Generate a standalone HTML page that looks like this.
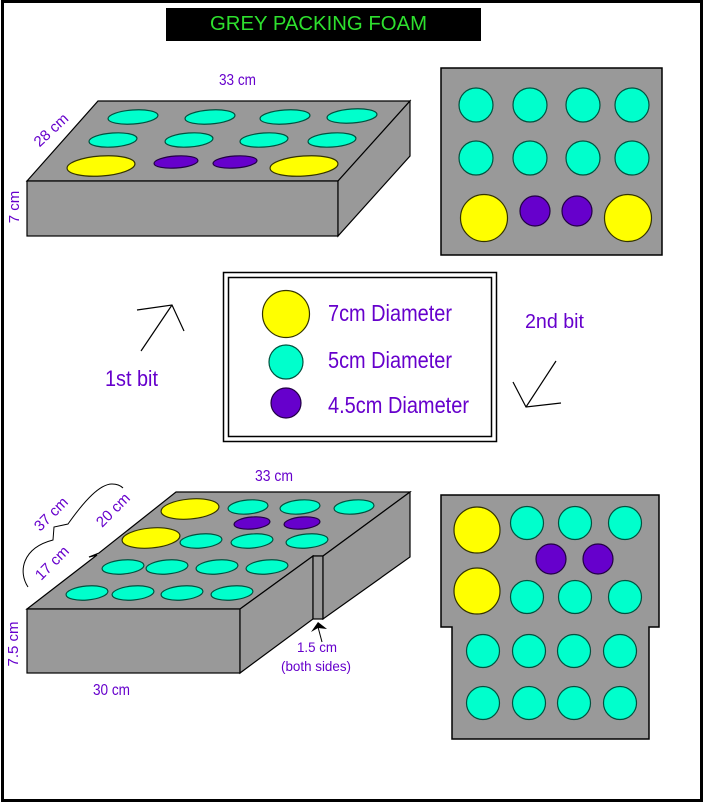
<!DOCTYPE html>
<html><head><meta charset="utf-8"><style>
html,body{margin:0;padding:0;background:#fff;}
svg{display:block;}
text{font-family:"Liberation Sans",Arial,sans-serif;}
</style></head><body>
<svg width="703" height="803" viewBox="0 0 703 803" xmlns="http://www.w3.org/2000/svg">
<rect x="0" y="0" width="703" height="803" fill="#fff"/>
<rect x="2.5" y="1.5" width="699" height="799" fill="none" stroke="#000" stroke-width="3"/>

<!-- Title -->
<rect x="166" y="8" width="315" height="33" fill="#000"/>
<text x="210" y="30" font-size="20" fill="#2ee02e" textLength="217" lengthAdjust="spacingAndGlyphs">GREY  PACKING FOAM</text>

<!-- Top box -->
<g stroke="#000" stroke-width="1.2" fill="#999999">
<polygon points="98,101 410,101 338,181 27,181"/>
<rect x="27" y="181" width="311" height="55"/>
<polygon points="338,181 410,101 410,156 338,236"/>
</g>
<g stroke-width="1.2">
<g fill="#00ffcc" stroke="#00523f">
<ellipse cx="133" cy="117" rx="25" ry="7" transform="rotate(-4 133 117)"/>
<ellipse cx="210" cy="117" rx="25" ry="7" transform="rotate(-4 210 117)"/>
<ellipse cx="285" cy="117" rx="25" ry="7" transform="rotate(-4 285 117)"/>
<ellipse cx="352" cy="116" rx="25" ry="7" transform="rotate(-4 352 116)"/>
<ellipse cx="113" cy="140" rx="24" ry="7" transform="rotate(-4 113 140)"/>
<ellipse cx="189" cy="140" rx="24" ry="7" transform="rotate(-4 189 140)"/>
<ellipse cx="264" cy="140" rx="24" ry="7" transform="rotate(-4 264 140)"/>
<ellipse cx="332" cy="140" rx="24" ry="7" transform="rotate(-4 332 140)"/>
</g>
<g fill="#ffff00" stroke="#333300">
<ellipse cx="101" cy="166" rx="34" ry="10" transform="rotate(-4 101 166)"/>
<ellipse cx="304" cy="166" rx="34" ry="10" transform="rotate(-4 304 166)"/>
</g>
<g fill="#6600cc" stroke="#220044">
<ellipse cx="176" cy="162" rx="22" ry="6" transform="rotate(-4 176 162)"/>
<ellipse cx="235" cy="162" rx="22" ry="6" transform="rotate(-4 235 162)"/>
</g>
</g>
<g fill="#6600cc" font-size="15">
<text x="219" y="85" font-size="16" textLength="37" lengthAdjust="spacingAndGlyphs">33 cm</text>
<text x="0" y="5" text-anchor="middle" transform="translate(51,130) rotate(-43)">28 cm</text>
<text x="0" y="5" text-anchor="middle" transform="translate(14,207) rotate(-90)">7 cm</text>
</g>

<!-- Top right panel -->
<rect x="441" y="68" width="221" height="187" fill="#999999" stroke="#000" stroke-width="1.5"/>
<g stroke-width="1.2">
<g fill="#00ffcc" stroke="#00523f">
<circle cx="476" cy="105" r="17"/><circle cx="530" cy="105" r="17"/><circle cx="583" cy="105" r="17"/><circle cx="632" cy="105" r="17"/>
<circle cx="476" cy="158" r="17"/><circle cx="530" cy="158" r="17"/><circle cx="583" cy="158" r="17"/><circle cx="632" cy="158" r="17"/>
</g>
<g fill="#ffff00" stroke="#333300">
<circle cx="484" cy="218" r="23.5"/><circle cx="628" cy="218" r="23.5"/>
</g>
<g fill="#6600cc" stroke="#220044">
<circle cx="535" cy="211" r="15"/><circle cx="577" cy="211" r="15"/>
</g>
</g>

<!-- Legend -->
<rect x="223.5" y="272.5" width="273" height="169" fill="#fff" stroke="#000" stroke-width="1.5"/>
<rect x="228.5" y="277.5" width="263" height="159" fill="none" stroke="#000" stroke-width="1.5"/>
<circle cx="286" cy="314" r="23.5" fill="#ffff00" stroke="#333300" stroke-width="1.2"/>
<circle cx="286" cy="362" r="17" fill="#00ffcc" stroke="#00523f" stroke-width="1.2"/>
<circle cx="286" cy="403" r="15" fill="#6600cc" stroke="#220044" stroke-width="1.2"/>
<g fill="#6600cc" font-size="23">
<text x="328" y="321" textLength="124" lengthAdjust="spacingAndGlyphs">7cm Diameter</text>
<text x="328" y="368" textLength="124" lengthAdjust="spacingAndGlyphs">5cm Diameter</text>
<text x="328" y="413" textLength="141" lengthAdjust="spacingAndGlyphs">4.5cm Diameter</text>
<text x="105" y="386" font-size="22" textLength="53" lengthAdjust="spacingAndGlyphs">1st bit</text>
<text x="525" y="328" font-size="20" textLength="59" lengthAdjust="spacingAndGlyphs">2nd bit</text>
</g>

<!-- Arrows -->
<g stroke="#000" stroke-width="1.2" fill="none">
<line x1="141" y1="351" x2="172" y2="305"/>
<polyline points="137,310 172,305 184,331"/>
<line x1="556" y1="361" x2="526" y2="407"/>
<polyline points="513,382 526,407 561,403"/>
</g>

<!-- Bottom box -->
<g stroke="#000" stroke-width="1.2" fill="#999999" stroke-linejoin="miter">
<polygon points="27,609 97,555 89,557 99,553 176,492 410,492 323,556 313,556 240,609"/>
<rect x="27" y="609" width="213" height="64"/>
<polygon points="240,609 313,556 313,619 240,673"/>
<rect x="313" y="556" width="10" height="63"/>
<polygon points="323,556 410,492 410,557 323,619"/>
</g>
<g stroke-width="1.2">
<g fill="#ffff00" stroke="#333300">
<ellipse cx="190" cy="509" rx="29" ry="10" transform="rotate(-5 190 509)"/>
<ellipse cx="151" cy="538" rx="29" ry="10" transform="rotate(-5 151 538)"/>
</g>
<g fill="#00ffcc" stroke="#00523f">
<ellipse cx="248" cy="507" rx="20" ry="7" transform="rotate(-5 248 507)"/>
<ellipse cx="300" cy="507" rx="20" ry="7" transform="rotate(-5 300 507)"/>
<ellipse cx="354" cy="507" rx="20" ry="7" transform="rotate(-5 354 507)"/>
<ellipse cx="201" cy="541" rx="21" ry="7" transform="rotate(-5 201 541)"/>
<ellipse cx="252" cy="541" rx="21" ry="7" transform="rotate(-5 252 541)"/>
<ellipse cx="307" cy="541" rx="21" ry="7" transform="rotate(-5 307 541)"/>
<ellipse cx="123" cy="567" rx="21" ry="7" transform="rotate(-5 123 567)"/>
<ellipse cx="167" cy="567" rx="21" ry="7" transform="rotate(-5 167 567)"/>
<ellipse cx="217" cy="567" rx="21" ry="7" transform="rotate(-5 217 567)"/>
<ellipse cx="267" cy="567" rx="21" ry="7" transform="rotate(-5 267 567)"/>
<ellipse cx="87" cy="593" rx="21" ry="7" transform="rotate(-5 87 593)"/>
<ellipse cx="133" cy="593" rx="21" ry="7" transform="rotate(-5 133 593)"/>
<ellipse cx="182" cy="593" rx="21" ry="7" transform="rotate(-5 182 593)"/>
<ellipse cx="232" cy="593" rx="21" ry="7" transform="rotate(-5 232 593)"/>
</g>
<g fill="#6600cc" stroke="#220044">
<ellipse cx="252" cy="523" rx="18" ry="6" transform="rotate(-5 252 523)"/>
<ellipse cx="302" cy="523" rx="18" ry="6" transform="rotate(-5 302 523)"/>
</g>
</g>

<!-- Brace -->
<path d="M28,587 C18,572 22,548 53,540 L54,527 L68,524 C85,500 100,484 112,484 C118,484 121,486 123,488" fill="none" stroke="#000" stroke-width="1"/>

<!-- Slot arrow -->
<line x1="322" y1="642" x2="318" y2="627" stroke="#000" stroke-width="1"/>
<polygon points="318,622 311,632 318,628 327,629" fill="#000"/>

<g fill="#6600cc" font-size="15">
<text x="255" y="481" font-size="16" textLength="38" lengthAdjust="spacingAndGlyphs">33 cm</text>
<text x="0" y="5" text-anchor="middle" transform="translate(51,514) rotate(-45)">37 cm</text>
<text x="0" y="5" text-anchor="middle" transform="translate(113,510) rotate(-45)">20 cm</text>
<text x="0" y="5" text-anchor="middle" transform="translate(52,563) rotate(-45)">17 cm</text>
<text x="0" y="5" text-anchor="middle" transform="translate(13,644) rotate(-90)">7.5 cm</text>
<text x="93" y="695" font-size="16" textLength="37" lengthAdjust="spacingAndGlyphs">30 cm</text>
<text x="297" y="652" font-size="14" textLength="40" lengthAdjust="spacingAndGlyphs">1.5 cm</text>
<text x="281" y="671" font-size="14" textLength="70" lengthAdjust="spacingAndGlyphs">(both sides)</text>
</g>

<!-- Bottom right panel -->
<polygon points="441,495 659,495 659,627 649,627 649,739 452,739 452,627 441,627" fill="#999999" stroke="#000" stroke-width="1.5"/>
<g stroke-width="1.2">
<g fill="#ffff00" stroke="#333300">
<circle cx="477" cy="530" r="23"/><circle cx="477" cy="591" r="23"/>
</g>
<g fill="#00ffcc" stroke="#00523f">
<circle cx="527" cy="523" r="16.5"/><circle cx="575" cy="523" r="16.5"/><circle cx="625" cy="523" r="16.5"/>
<circle cx="527" cy="597" r="16.5"/><circle cx="575" cy="597" r="16.5"/><circle cx="625" cy="597" r="16.5"/>
<circle cx="483" cy="651" r="16.5"/><circle cx="529" cy="651" r="16.5"/><circle cx="574" cy="651" r="16.5"/><circle cx="620" cy="651" r="16.5"/>
<circle cx="483" cy="703" r="16.5"/><circle cx="529" cy="703" r="16.5"/><circle cx="574" cy="703" r="16.5"/><circle cx="620" cy="703" r="16.5"/>
</g>
<g fill="#6600cc" stroke="#220044">
<circle cx="551" cy="559" r="15"/><circle cx="598" cy="559" r="15"/>
</g>
</g>
</svg>
</body></html>
